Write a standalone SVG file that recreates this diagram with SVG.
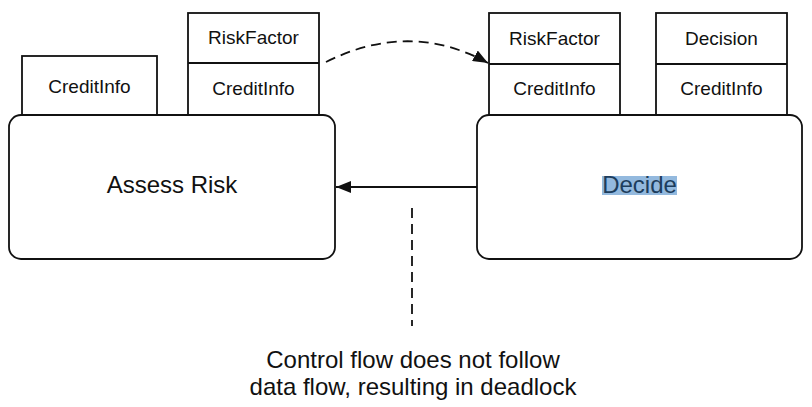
<svg xmlns="http://www.w3.org/2000/svg" width="812" height="407" viewBox="0 0 812 407">
<defs>
<style>
.box{fill:#fff;stroke:#111;stroke-width:1.8}
.t{font-family:"Liberation Sans",Arial,sans-serif;fill:#111;text-anchor:middle}
.s{font-size:19px}
.b{font-size:24px}
.c{fill:none;stroke:#111;stroke-width:1.8}
.d{stroke-dasharray:10 6}
</style>
<marker id="ah" viewBox="0 0 15 12" refX="15" refY="6" markerWidth="15" markerHeight="12" markerUnits="userSpaceOnUse" orient="auto">
<path d="M0,0 L15,6 L0,12 Z" fill="#111"/>
</marker>
</defs>
<rect width="812" height="407" fill="#fff"/>
<g id="assess">
<rect class="box" x="22" y="56" width="135" height="60"/>
<text class="t s" x="89.5" y="93">CreditInfo</text>
<rect class="box" x="188" y="13" width="131" height="102"/>
<line class="c" x1="188" y1="63" x2="319" y2="63"/>
<text class="t s" x="253.5" y="44">RiskFactor</text>
<text class="t s" x="253.5" y="95">CreditInfo</text>
<rect class="box" x="9" y="115" width="326" height="144" rx="12"/>
<text class="t b" x="172" y="193">Assess Risk</text>
</g>
<g id="decide">
<rect class="box" x="489" y="13" width="131" height="102"/>
<line class="c" x1="489" y1="64" x2="620" y2="64"/>
<text class="t s" x="554.5" y="45">RiskFactor</text>
<text class="t s" x="554.5" y="95">CreditInfo</text>
<rect class="box" x="656" y="13" width="131" height="102"/>
<line class="c" x1="656" y1="64" x2="787" y2="64"/>
<text class="t s" x="721.5" y="45">Decision</text>
<text class="t s" x="721.5" y="95">CreditInfo</text>
<rect class="box" x="477" y="115" width="325" height="144" rx="12"/>
<rect x="602" y="176" width="75" height="19" fill="#93b9de"/>
<text class="t b" x="639.5" y="193" style="fill:#1d3d5c">Decide</text>
</g>
<g id="connectors">
<path class="c d" d="M326,62 Q410,20 488,63" marker-end="url(#ah)"/>
<line class="c" x1="477" y1="187" x2="336" y2="187" marker-end="url(#ah)"/>
<line class="c d" x1="412" y1="208" x2="412" y2="326"/>
</g>
<g id="note">
<text class="t b" x="413" y="368">Control flow does not follow</text>
<text class="t b" x="413" y="395">data flow, resulting in deadlock</text>
</g>
</svg>
